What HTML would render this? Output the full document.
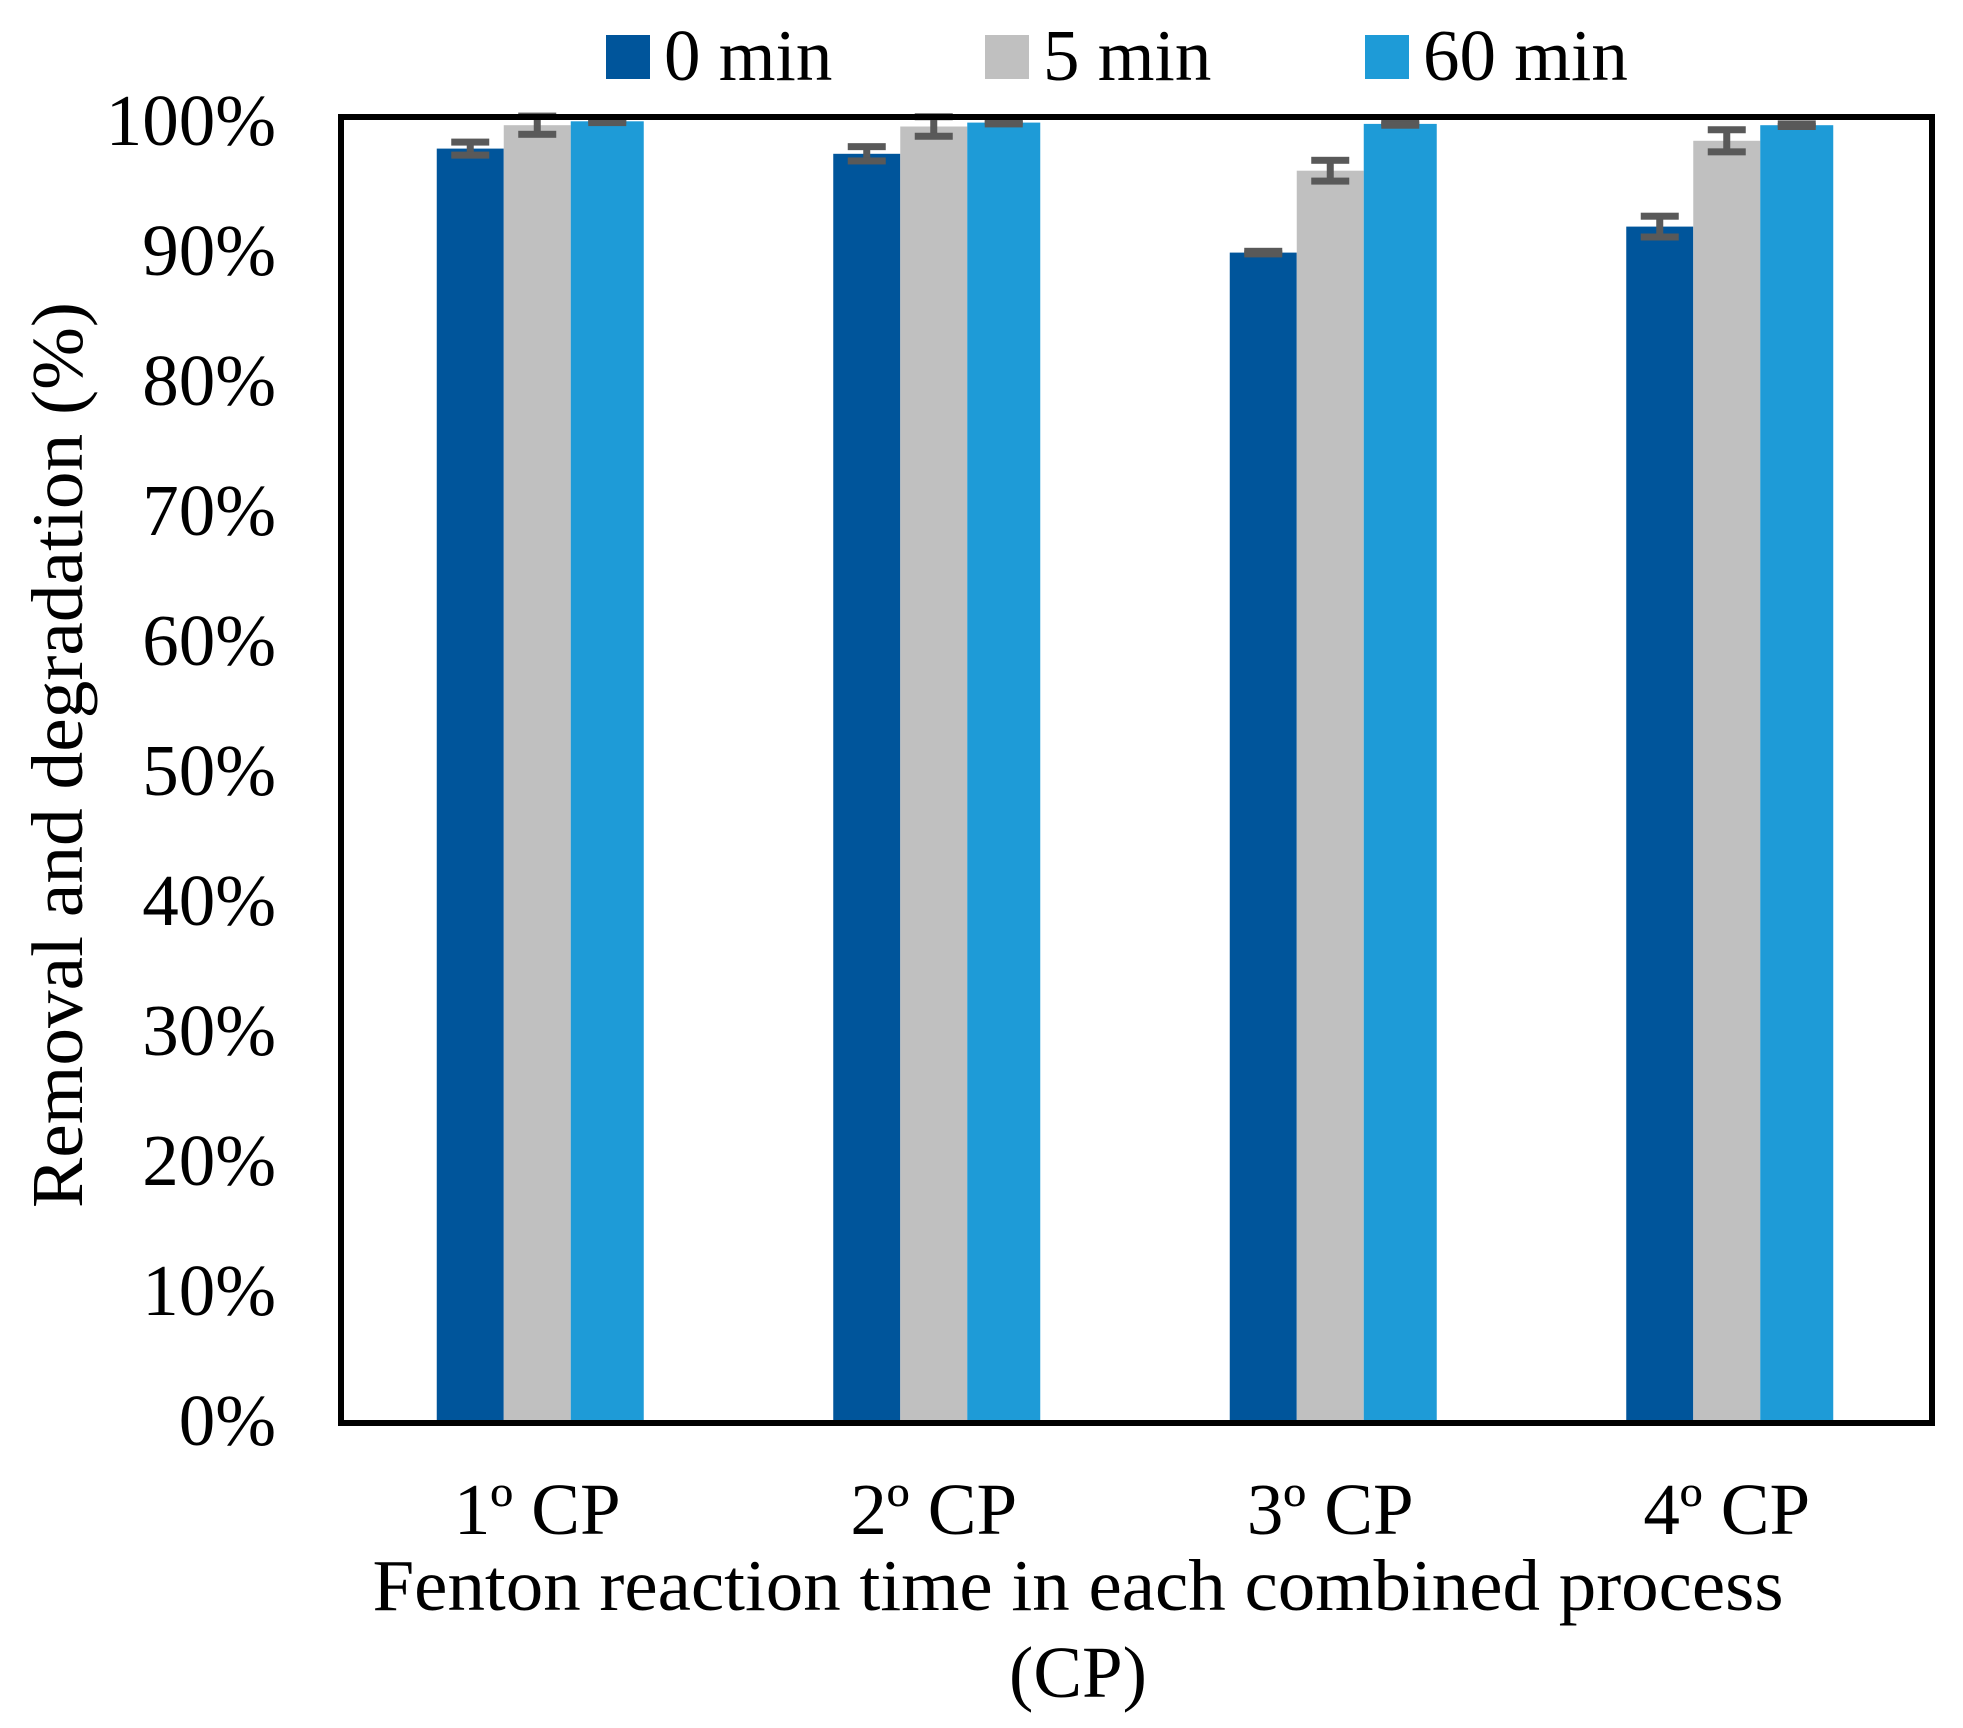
<!DOCTYPE html>
<html><head><meta charset="utf-8"><style>
html,body{margin:0;padding:0;background:#fff;}
svg{display:block;font-family:"Liberation Serif",serif;}
</style></head><body>
<svg width="1963" height="1728" viewBox="0 0 1963 1728" xmlns="http://www.w3.org/2000/svg">
<g id="legend"></g>
<g id="yticks"></g>
<g id="bars"></g>
<g id="errs"></g>
<rect x="341" y="117" width="1591" height="1306" fill="none" stroke="#000" stroke-width="6"/>
<g id="xticks"></g>
<text x="1078" y="1610" font-size="73" text-anchor="middle" textLength="1411" lengthAdjust="spacingAndGlyphs">Fenton reaction time in each combined process</text>
<text x="1078" y="1697" font-size="73" text-anchor="middle">(CP)</text>
<text transform="translate(82,755) rotate(-90)" font-size="73" text-anchor="middle" textLength="906" lengthAdjust="spacingAndGlyphs">Removal and degradation (%)</text>
</svg>
<script>
const categories = ["1º CP","2º CP","3º CP","4º CP"];
const seriesNames = ["0 min","5 min","60 min"];
const values0 = [97.8, 97.4, 89.8, 91.8];
const values5 = [99.6, 99.5, 96.1, 98.4];
const values60 = [99.9, 99.8, 99.7, 99.6];
const err0 = [0.5, 0.55, 0.1, 0.8];
const err5 = [0.7, 0.75, 0.8, 0.85];
const err60 = [0.1, 0.1, 0.1, 0.1];
const yTicks = [0,10,20,30,40,50,60,70,80,90,100];

const NS="http://www.w3.org/2000/svg";
const colors=["#00559B","#C0C0C0","#1E9BD7"];
const X0=339, X1=1925, Y0=1420, Y1=120;
const catW=(X1-X0)/categories.length;
const barW=67;
function yS(v){return Y0-(v/100)*(Y0-Y1);}
function xCat(i){return X0+catW*(i+0.5);}
function mk(tag,attrs,parent){const e=document.createElementNS(NS,tag);for(const k in attrs)e.setAttribute(k,attrs[k]);parent.appendChild(e);return e;}

const yt=document.getElementById('yticks');
yTicks.forEach(v=>{
  const t=mk('text',{x:276,y:yS(v)+25,'font-size':73,'text-anchor':'end'},yt);
  
  
  t.textContent=v+'%';
});
const xt=document.getElementById('xticks');
categories.forEach((c,i)=>{
  const t=mk('text',{x:xCat(i),y:1534,'font-size':73,'text-anchor':'middle'},xt);
  
  
  t.textContent=c;
});
const all=[values0,values5,values60], errs=[err0,err5,err60];
const bg=document.getElementById('bars'), eg=document.getElementById('errs');
all.forEach((vals,s)=>{
  vals.forEach((v,i)=>{
    const x=xCat(i)-1.5*barW+s*barW;
    const r=mk('rect',{x:x,y:yS(v),width:barW+(s==2?6:0),height:Y0-yS(v),fill:colors[s]},bg);
    
    
    const cx=x+barW/2+(s==2?3:0), e=errs[s][i];
    const g=mk('g',{fill:'#595959'},eg);
    
    
    const top=yS(v+e), bot=yS(v-e);
    mk('rect',{x:cx-3.5,y:top,width:7,height:bot-top},g);
    mk('rect',{x:cx-19,y:top-3.5,width:38,height:7},g);
    mk('rect',{x:cx-19,y:bot-3.5,width:38,height:7},g);
  });
});
const lg=document.getElementById('legend');
const lx=[606,985,1365];
seriesNames.forEach((n,s)=>{
  const r=mk('rect',{x:lx[s],y:35,width:44,height:44,fill:colors[s]},lg);
  
  
  const t=mk('text',{x:lx[s]+58,y:80,'font-size':73},lg);
  
  
  t.textContent=n;
});
</script>
</body></html>
